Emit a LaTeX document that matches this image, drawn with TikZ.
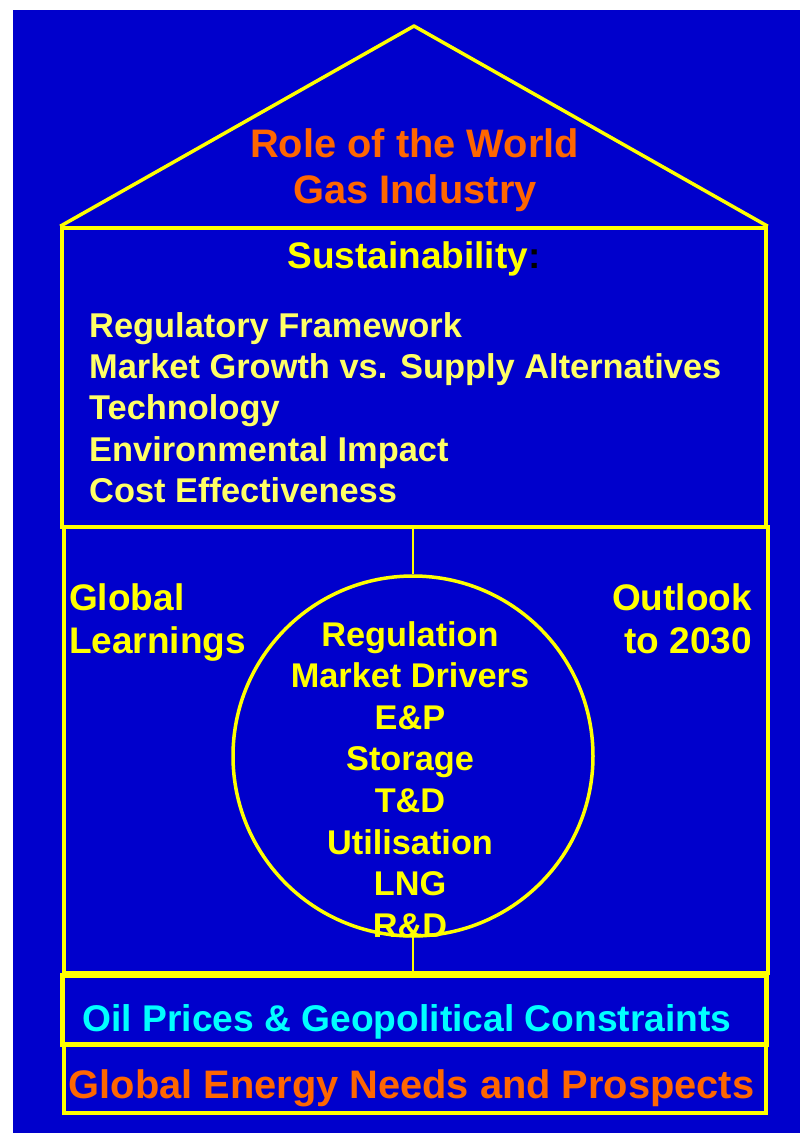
\documentclass[tikz,border=0pt]{standalone}
\usepackage{fontspec}
\setmainfont{Liberation Sans}
\usepackage{xcolor}
\usetikzlibrary{positioning, calc}
\definecolor{slideBlue}{RGB}{0,0,204}
\definecolor{frameYellow}{RGB}{255,255,0}
\definecolor{topicYellow}{RGB}{255,255,102}
\definecolor{titleOrange}{RGB}{255,102,0}
\definecolor{oilCyan}{RGB}{0,255,255}

\begin{document}
\begin{tikzpicture}[
    x=1pt, y=-1pt,
    housebox/.style={rectangle, draw=frameYellow, line width=3.5pt, inner sep=0pt},
    link/.style={draw=frameYellow, line width=2.5pt},
    heading/.style={font=\bfseries\fontsize{39.8}{46}\selectfont, text=titleOrange, inner sep=0pt},
    topic/.style={font=\bfseries\fontsize{34.4}{40}\selectfont, text=topicYellow, inner sep=0pt, anchor=base west},
    sideline/.style={font=\bfseries\fontsize{37}{40}\selectfont, text=frameYellow, inner sep=0pt},
    hubline/.style={font=\bfseries\fontsize{34.3}{40}\selectfont, text=frameYellow, inner sep=0pt, anchor=base}
]
\useasboundingbox (0,0) rectangle (800,1133);
\fill[slideBlue] (13,10) rectangle (800,1133);

% House frame
\node[housebox, minimum width=704pt, minimum height=299pt] (upper) at (414,377.5) {};
\node[housebox, minimum width=704pt, minimum height=446pt] (middle) at (416,750) {};
\node[housebox, line width=5pt, minimum width=704pt, minimum height=69pt] (oil) at (414,1009.5) {};
\node[housebox, minimum width=702pt, minimum height=68pt] (energy) at (415,1079) {};
\coordinate (apex) at (414,26);
\draw[draw=frameYellow, line width=3.5pt, line join=round] (upper.north west) -- (apex) -- (upper.north east);

% Roof
\node[heading, anchor=base] (role) at (414.5,157) {Role of the World};
\node[heading, anchor=base] (gas) at (415,203) {Gas Industry};

% Sustainability
\node[sideline, anchor=base] (sustain) at (414,268) {Sustainability\textcolor{black}{:}};
\foreach \txt [count=\i from 0] in {Regulatory Framework, Market Growth vs. Supply Alternatives, Technology, Environmental Impact, Cost Effectiveness}
  \node[topic] (topic\i) at (89,337+41.4*\i) {\txt};

% Side texts
\node[sideline, anchor=base west] (global) at (69,610) {Global};
\node[sideline, anchor=base west] (learn) at (69,653) {Learnings};
\node[sideline, anchor=base east] (outlook) at (752,610) {Outlook};
\node[sideline, anchor=base east] (year) at (752,653) {to 2030};

% Hub
\node[circle, draw=frameYellow, line width=3.5pt, minimum size=360pt, inner sep=0pt] (hub) at (413,756) {};
\foreach \txt [count=\i from 0] in {Regulation, Market Drivers, E\&P, Storage, T\&D, Utilisation, LNG, R\&D}
  \node[hubline] (hub\i) at (410,646+41.6*\i) {\txt};
\draw[link] (hub.north) -- (hub.north |- upper.south);
\draw[link] (hub.south) -- ($(hub.south |- middle.south)+(0,-3)$);

% Foundations
\node[font=\bfseries\fontsize{37.2}{44}\selectfont, text=oilCyan, inner sep=0pt, anchor=base] (oiltext) at (407,1031) {Oil Prices \& Geopolitical Constraints};
\node[heading, anchor=base] (energytext) at (411.5,1098) {Global Energy Needs and Prospects};
\end{tikzpicture}
\end{document}
